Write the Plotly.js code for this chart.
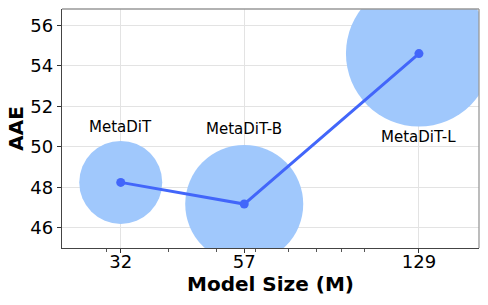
<!DOCTYPE html>
<html>
<head>
<meta charset="utf-8">
<script src="https://cdn.plot.ly/plotly-3.0.1.min.js"></script>
<style>html,body{margin:0;padding:0;background:#fff;}#chart{width:488px;height:305px;}</style>
</head>
<body>
<div id="chart"></div>
<script>
// Data
const modelNames = ["MetaDiT", "MetaDiT-B", "MetaDiT-L"];
const modelSize = [32, 57, 129];
const aae = [48.24, 47.17, 54.6];
const labelY = [50.97, 50.87, 50.47];
const xTickVals = [32, 57, 129];
const xTickText = ["32", "57", "129"];
const xMinorVals = [30, 40, 50, 60, 70, 80, 90, 100];
const yTickVals = [46, 48, 50, 52, 54, 56];

// Styling (bubble diameters in px)
const bubbleDiam = [83, 118, 146];

const FONT = "DejaVu Sans, sans-serif";

const traces = [
  {
    x: modelSize, y: aae, type: "scatter", mode: "markers",
    marker: {size: bubbleDiam, color: "rgb(160,200,252)", opacity: 1, line: {width: 0}},
    cliponaxis: true, hoverinfo: "skip", showlegend: false
  },
  {
    x: modelSize, y: aae, type: "scatter", mode: "lines+markers",
    line: {color: "rgb(66,102,250)", width: 3},
    marker: {size: 9, color: "rgb(66,102,250)", opacity: 1},
    cliponaxis: true, showlegend: false
  }
];

const annotations = modelNames.map((n, i) => ({
  x: Math.log10(modelSize[i]), y: labelY[i], xref: "x", yref: "y",
  text: n, showarrow: false, xanchor: "center", yanchor: "middle",
  font: {family: FONT, size: 15, color: "#000"}
}));

const layout = {
  width: 488, height: 305,
  margin: {l: 62, r: 9, t: 9, b: 57},
  paper_bgcolor: "#fff", plot_bgcolor: "#fff",
  font: {family: FONT, color: "#000"},
  showlegend: false,
  xaxis: {
    type: "log",
    range: [1.3859, 2.2325],
    tickmode: "array", tickvals: xTickVals, ticktext: xTickText,
    ticks: "outside", ticklen: 4, tickcolor: "#333", tickwidth: 1,
    ticklabelstandoff: -7,
    tickfont: {family: FONT, size: 18, color: "#000"},
    showgrid: true, gridcolor: "#e3e3e3", gridwidth: 1,
    showline: true, linecolor: "#444", linewidth: 1.3,
    zeroline: false,
    minor: {tickmode: "array", tickvals: xMinorVals, ticks: "outside", ticklen: 3, tickcolor: "#555", showgrid: false},
    title: {text: "<b>Model Size (M)</b>", font: {family: FONT, size: 20, color: "#000"}, standoff: 2}
  },
  yaxis: {
    range: [45, 56.8],
    tickmode: "array", tickvals: yTickVals,
    ticks: "outside", ticklen: 4, tickcolor: "#333", tickwidth: 1,
    tickfont: {family: FONT, size: 18, color: "#000"},
    showgrid: true, gridcolor: "#e3e3e3", gridwidth: 1,
    showline: true, linecolor: "#444", linewidth: 1.3,
    zeroline: false,
    title: {text: "<b>AAE</b>", font: {family: FONT, size: 20, color: "#000"}, standoff: 1}
  },
  annotations: annotations,
  shapes: [
    {type: "line", xref: "paper", yref: "paper", x0: 0, x1: 1, y0: 1, y1: 1, line: {color: "#999", width: 1.3}},
    {type: "line", xref: "paper", yref: "paper", x0: 1, x1: 1, y0: 0, y1: 1, line: {color: "#999", width: 1.3}}
  ]
};

Plotly.newPlot("chart", traces, layout, {displayModeBar: false, staticPlot: true});
</script>
</body>
</html>
